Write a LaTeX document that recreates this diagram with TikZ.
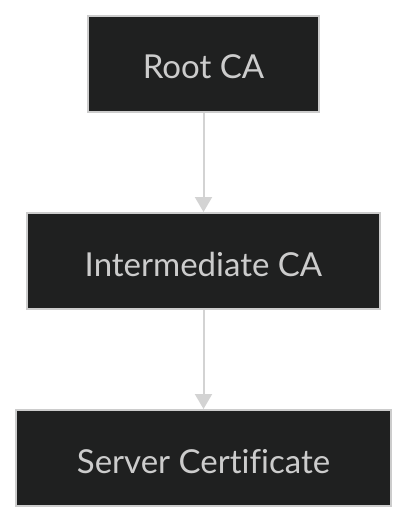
\documentclass[tikz,border=0pt]{standalone}
\usepackage{fontspec}
\setmainfont{Lato}[Ligatures=NoCommon]
\usetikzlibrary{arrows.meta}
\definecolor{boxfill}{HTML}{1F2020}
\definecolor{boxline}{HTML}{CCCCCC}
\definecolor{txt}{HTML}{CCCCCC}
\definecolor{edge}{HTML}{D3D3D3}
\tikzset{
  certbox/.style={draw=boxline, line width=2pt, fill=boxfill, text=txt,
    font=\fontsize{33}{38}\selectfont, minimum height=96pt, inner sep=0pt, anchor=center},
  link/.style={draw=edge, line width=2pt, -{Triangle[length=15pt,width=17pt]}}
}
\newcommand{\lbl}[1]{\raisebox{-3pt}[\height][0pt]{#1}}
\begin{document}
\begin{tikzpicture}[x=1pt,y=-1pt]
\useasboundingbox (0,0) rectangle (408,523);
\node[certbox, minimum width=231pt] (root) at (203.5,64) {\lbl{Root CA}};
\node[certbox, minimum width=353pt] (inter) at (203.5,261) {\lbl{Intermediate CA}};
\node[certbox, minimum width=375pt] (server) at (203.5,458) {\lbl{Server Certificate}};
\draw[link] (root) -- (inter);
\draw[link] (inter) -- (server);
\end{tikzpicture}
\end{document}
